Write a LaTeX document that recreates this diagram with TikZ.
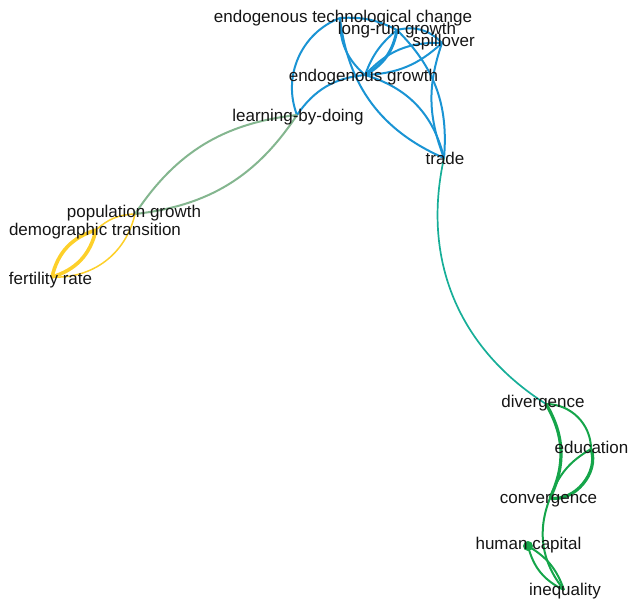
\documentclass[tikz,border=0pt]{standalone}
\usepackage{fontspec}
\setmainfont{Liberation Sans}
\definecolor{cblue}{HTML}{1A94D4}
\definecolor{cgreen}{HTML}{15A54A}
\definecolor{cyellow}{HTML}{FDD02A}
\definecolor{cgg}{HTML}{84B68F}
\definecolor{cteal}{HTML}{17AE98}
\definecolor{ctext}{HTML}{151515}
\begin{document}
\begin{tikzpicture}[x=1pt,y=1pt,
  lab/.style={anchor=base,font=\fontsize{17}{17}\selectfont,text=ctext,inner sep=0pt},
  eb/.style={draw=cblue,line width=2pt},
  ebt/.style={draw=cblue,line width=3pt},
  eg/.style={draw=cgreen,line width=2pt},
  egt/.style={draw=cgreen,line width=3.2pt},
  ey/.style={draw=cyellow,line width=1.5pt},
  eyt/.style={draw=cyellow,line width=3.6pt},
  egg/.style={draw=cgg,line width=2pt},
  ete/.style={draw=cteal,line width=1.7pt}]
\useasboundingbox (0,0) rectangle (628,-600);
% node centres
\coordinate (etc) at (340,-18);
\coordinate (lrg) at (397,-30);
\coordinate (sp) at (442,-43);
\coordinate (eg) at (365,-75);
\coordinate (lbd) at (297,-115);
\coordinate (tr) at (444,-158);
\coordinate (pg) at (135,-214);
\coordinate (dt) at (96,-230);
\coordinate (fr) at (52,-277);
\coordinate (dv) at (546,-404);
\coordinate (ed) at (591,-449);
\coordinate (cv) at (550,-498);
\coordinate (hc) at (528,-546);
\coordinate (iq) at (564,-590);
% blue cluster
\draw[eb] (etc) to[bend right=45] (lbd);
\draw[eb] (eg) to[bend right=25] (lbd);
\draw[eb] (etc) to[bend right=25] (eg);
\draw[eb] (etc) to[bend left=15] (lrg);
\draw[eb] (lrg) to[bend left=30] (sp);
\draw[ebt] (lrg) to[bend left=25] (eg);
\draw[eb] (lrg) to[bend right=15] (eg);
\draw[eb] (sp) to[bend left=20] (eg);
\draw[eb] (sp) to[bend right=25] (eg);
\draw[eb] (lrg) to[bend left=25] (tr);
\draw[eb] (sp) to[bend right=20] (tr);
\draw[eb] (eg) to[bend left=30] (tr);
\draw[eb] (etc) to[bend right=30] (tr);
% links between clusters
\draw[egg] (lbd) to[bend right=25] (pg);
\draw[egg] (lbd) to[bend left=25] (pg);
\draw[ete] (tr) to[bend right=35] (dv);
% yellow cluster
\draw[eyt] (fr) to[bend left=30] (dt);
\draw[eyt] (fr) to[bend right=30] (dt);
\draw[ey] (fr) to[bend right=40] (pg);
\draw[ey] (dt) to[bend left=20] (pg);
% green cluster
\draw[egt] (dv) to[bend left=28] (cv);
\draw[eg] (dv) to[bend left=45] (ed);
\draw[egt] (ed) to[bend left=60] (cv);
\draw[eg] (ed) to[bend right=20] (cv);
\draw[eg] (cv) to[bend right=30] (iq);
\draw[eg] (hc) to[bend right=25] (iq);
\draw[eg] (hc) to[bend left=20] (iq);
\fill[cgreen] (hc) circle (5);
% labels
\node[lab] (etcL) at (343,-22) {endogenous technological change};
\node[lab] (lrgL) at (397,-34) {long-run growth};
\node[lab] (spL) at (443.5,-46) {spillover};
\node[lab] (egL) at (363.5,-81) {endogenous growth};
\node[lab] (lbdL) at (298,-121) {learning-by-doing};
\node[lab] (trL) at (445,-164) {trade};
\node[lab] (pgL) at (134,-217) {population growth};
\node[lab] (dtL) at (95,-235) {demographic transition};
\node[lab] (frL) at (50.5,-284) {fertility rate};
\node[lab] (dvL) at (543,-407) {divergence};
\node[lab] (edL) at (591.5,-453) {education};
\node[lab] (cvL) at (548.5,-503) {convergence};
\node[lab] (hcL) at (528.5,-549) {human capital};
\node[lab] (iqL) at (565,-595) {inequality};
\end{tikzpicture}
\end{document}
